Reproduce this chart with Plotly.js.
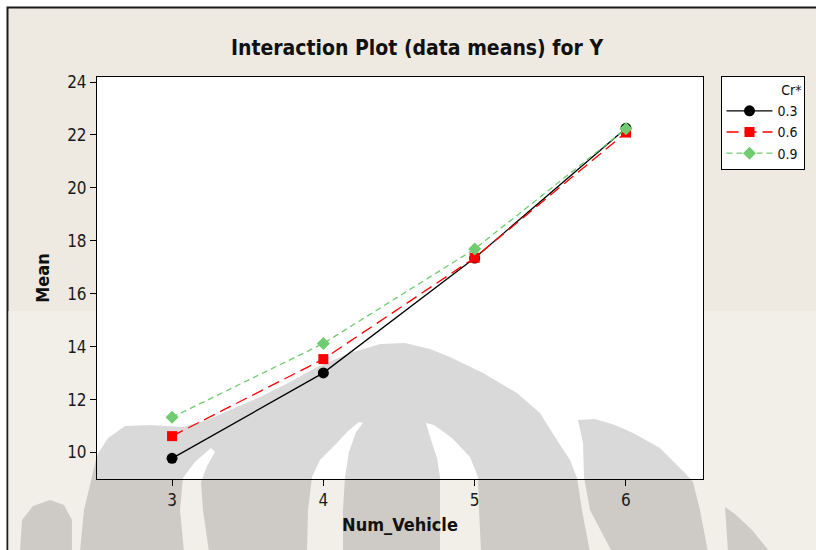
<!DOCTYPE html>
<html>
<head>
<meta charset="utf-8">
<script src="https://cdn.plot.ly/plotly-3.0.1.min.js"></script>
<style>
  html, body { margin: 0; padding: 0; background: #ffffff; }
  #chart { width: 816px; height: 550px; }
</style>
</head>
<body>
<div id="chart"></div>
<script>
// Interaction plot: mean of Y by number of vehicles, one line per Cr level
const numVehicle = [3, 4, 5, 6];
const xTickLabels = ['3', '4', '5', '6'];
const yTickValues = [10, 12, 14, 16, 18, 20, 22, 24];
const crLevels = ['0.3', '0.6', '0.9'];
const meanCr03 = [9.78, 13.01, 17.35, 22.25];
const meanCr06 = [10.62, 13.53, 17.36, 22.09];
const meanCr09 = [11.33, 14.12, 17.69, 22.23];

const W = 816, H = 550;
const M = { l: 97, r: 113, t: 77, b: 71, autoexpand: false };
const plotW = W - M.l - M.r, plotH = H - M.t - M.b;

// pixel -> paper helpers for the background artwork
const px = x => (x - M.l) / plotW;
const py = y => (H - M.b - y) / plotH;
const toPath = pts => 'M' + pts.map(p => px(p[0]).toFixed(4) + ',' + py(p[1]).toFixed(4)).join('L') + 'Z';

// faint emblem printed behind the lower half of the figure
const emblemBody = [[80,552],[84,510],[90,485],[97,455],[108,438],[125,426],[150,425],[183,427],[207,420],[230,410],[260,397],[290,382],[317,367],[350,353],[380,344],[405,343],[430,349],[450,357],[483,373],[517,393],[540,413],[555,437],[570,460],[577,478],[582,510],[590,552]];
const emblemLegOuterLeft = [[211,448],[195,462],[183,478],[180,510],[184,552],[209,552],[203,510],[201,482],[207,466],[215,452]];
const emblemLegLeft = [[359,422],[348,431],[336,444],[320,460],[312,477],[308,510],[307,552],[343,552],[343,510],[345,477],[349,452],[356,432],[363,423]];
const emblemLegRight = [[426,423],[431,440],[437,458],[440,477],[440,552],[481,552],[479,510],[478,477],[470,457],[452,438],[434,425]];
const emblemRightLobe = [[612,552],[590,510],[584,477],[583,443],[578,420],[595,419],[615,425],[633,433],[660,448],[685,473],[693,482],[700,510],[708,552]];
const emblemFarLeft = [[20,552],[22,520],[33,506],[50,500],[64,505],[72,520],[72,552]];
const emblemFarRight = [[728,552],[725,507],[735,514],[752,530],[770,552]];

const emblemPath = [emblemBody, emblemLegOuterLeft, emblemLegLeft, emblemLegRight, emblemRightLobe, emblemFarLeft, emblemFarRight].map(toPath).join(' ');

const FONT = '"DejaVu Sans Condensed", "DejaVu Sans", sans-serif';

const traces = [
  {
    x: numVehicle, y: meanCr03, name: crLevels[0], type: 'scatter', mode: 'lines+markers',
    line: { color: '#000000', width: 1.3, dash: 'solid' },
    marker: { symbol: 'circle', size: 11, color: '#000000' }
  },
  {
    x: numVehicle, y: meanCr06, name: crLevels[1], type: 'scatter', mode: 'lines+markers',
    line: { color: '#FF0000', width: 1.3, dash: '12px,6px' },
    marker: { symbol: 'square', size: 10, color: '#FF0000' }
  },
  {
    x: numVehicle, y: meanCr09, name: crLevels[2], type: 'scatter', mode: 'lines+markers',
    line: { color: '#70CC70', width: 1.3, dash: '6px,4px' },
    marker: { symbol: 'diamond', size: 10, color: '#70CC70' }
  }
];

const layout = {
  width: W, height: H,
  margin: M,
  paper_bgcolor: '#ffffff',
  plot_bgcolor: 'rgba(0,0,0,0)',
  font: { family: FONT, color: '#1a1a1a', size: 16 },
  title: {
    text: '<b>Interaction Plot (data means) for Y</b>',
    font: { family: FONT, size: 21, color: '#111111' },
    xref: 'container', yref: 'container',
    x: 417 / W, xanchor: 'center',
    y: 1 - 48 / H, yanchor: 'middle'
  },
  xaxis: {
    range: [2.504, 6.509],
    tickvals: numVehicle, ticktext: xTickLabels,
    ticks: 'outside', ticklen: 6, tickwidth: 1, tickcolor: '#000000',
    showline: true, linecolor: '#000000', linewidth: 1, mirror: true,
    showgrid: false, zeroline: false,
    tickfont: { family: FONT, size: 17, color: '#1a1a1a' },
    title: { text: '<b>Num_Vehicle</b>', font: { family: FONT, size: 18, color: '#111111' }, standoff: 8 }
  },
  yaxis: {
    range: [9.0, 24.19],
    tickvals: yTickValues,
    ticks: 'outside', ticklen: 6, tickwidth: 1, tickcolor: '#000000',
    showline: true, linecolor: '#000000', linewidth: 1, mirror: true,
    showgrid: false, zeroline: false,
    tickfont: { family: FONT, size: 17, color: '#1a1a1a' },
    title: { text: '<b>Mean</b>', font: { family: FONT, size: 18, color: '#111111' }, standoff: 12 }
  },
  showlegend: true,
  legend: {
    x: px(720.5), y: py(76), xanchor: 'left', yanchor: 'top',
    bgcolor: '#ffffff', bordercolor: '#000000', borderwidth: 1,
    font: { family: FONT, size: 14, color: '#111111' },
    title: { text: 'Cr*', side: 'top right', font: { family: FONT, size: 14, color: '#111111' } },
    itemwidth: 46,
    tracegroupgap: 0
  },
  shapes: [
    { type: 'rect', xref: 'paper', yref: 'paper', layer: 'below',
      x0: px(7.5), y0: py(600), x1: px(900), y1: py(7.5),
      fillcolor: '#EEEAE1', line: { color: '#1a1a1a', width: 2 } },
    { type: 'rect', xref: 'paper', yref: 'paper', layer: 'below',
      x0: px(8.5), y0: py(600), x1: px(900), y1: py(311),
      fillcolor: '#F2EFE9', line: { width: 0 } },
    { type: 'rect', xref: 'paper', yref: 'paper', layer: 'below',
      x0: 0, y0: 0, x1: 1, y1: 1,
      fillcolor: '#ffffff', line: { width: 0 } },
    { type: 'path', xref: 'paper', yref: 'paper', layer: 'below',
      path: emblemPath, fillcolor: 'rgba(0,0,0,0.15)', line: { width: 0 } }
  ]
};

Plotly.newPlot('chart', traces, layout, { displayModeBar: false, staticPlot: true });
</script>
</body>
</html>
